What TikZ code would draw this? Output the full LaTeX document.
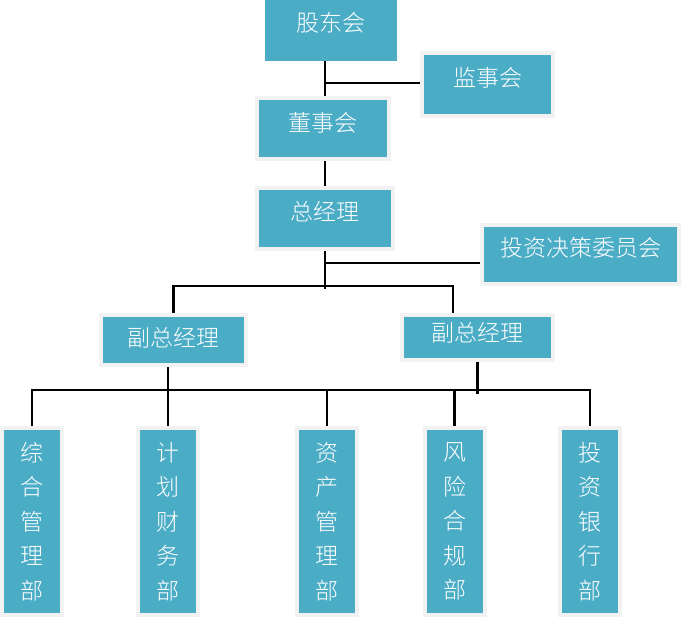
\documentclass[tikz,border=0pt]{standalone}
\usepackage{fontspec}
\IfFontExistsTF{Noto Sans CJK SC Light}
  {\newfontfamily\cjk{Noto Sans CJK SC Light}}
  {\newfontfamily\cjk{Noto Sans CJK SC}}
\definecolor{boxblue}{HTML}{4BACC6}
\definecolor{rimgray}{HTML}{F2F2F2}
\newcommand\tx[2]{\smash{\raisebox{#1}{#2}}}
\begin{document}
\begin{tikzpicture}[x=1pt,y=-1pt,
  box/.style={rectangle, fill=boxblue, draw=rimgray, line width=4pt, text=white,
    font=\cjk\fontsize{23}{28}\selectfont, inner sep=0pt},
  dept/.style={box, minimum width=60pt, minimum height=187pt, align=center,
    font=\cjk\fontsize{23}{34.5}\selectfont},
  wire/.style={line width=2.2pt, black}]
\useasboundingbox (0,0) rectangle (687,634);

\node[box, draw=none, outer sep=0pt, minimum width=132pt, minimum height=61pt] (gd) at (331,30.5) {\tx{-1pt}{股东会}};
\node[box, minimum width=131pt, minimum height=63pt] (js) at (487.5,84.5) {\tx{-2pt}{监事会}};
\node[box, minimum width=132pt, minimum height=61pt] (ds) at (323,128.5) {\tx{-3pt}{董事会}};
\node[box, minimum width=136pt, minimum height=61pt] (zjl) at (325,218.5) {\tx{-2pt}{总经理}};
\node[box, minimum width=197pt, minimum height=59pt] (tz) at (580.5,254.5) {\tx{-2pt}{投资决策委员会}};
\node[box, minimum width=145pt, minimum height=50pt] (f1) at (173.5,340) {\tx{-6pt}{副总经理}};
\node[box, minimum width=151pt, minimum height=45pt] (f2) at (477.5,337.5) {\tx{-4pt}{副总经理}};

\node[dept] (d1) at (32,521.5) {综\\合\\管\\理\\部};
\node[dept] (d2) at (168,521.5) {计\\划\\财\\务\\部};
\node[dept] (d3) at (327,521.5) {资\\产\\管\\理\\部};
\node[dept] (d4) at (454.5,521.5) {风\\险\\合\\规\\部};
\node[dept] (d5) at (590,521.5) {投\\资\\银\\行\\部};

\coordinate (z1) at (325,289);
\coordinate (sp) at (325,286);
\coordinate (b2) at (453,286);
\coordinate (bus) at (0,390);

\draw[wire] (gd.south -| zjl.north) -- (ds.north -| zjl.north);
\draw[wire] ([yshift=1.5pt]js.west) -- ([yshift=1.5pt]js.west -| zjl.north);
\draw[wire] (ds.south -| zjl.north) -- (zjl.north);
\draw[wire] (zjl.south) -- (z1);
\draw[wire] ([yshift=-8.5pt]tz.west) -- ([yshift=-8.5pt]tz.west -| zjl.south);
\draw[wire] (f1.north) -- (f1.north |- sp) -- (b2) -- (b2 |- f2.north);
\draw[wire] (f1.south -| d2.north) -- (d2.north);
\draw[wire] (f2.south) -- ([yshift=-32pt]f2.south);
\draw[wire] (d1.north) -- (d1.north |- bus) -- (d5.north |- bus) -- (d5.north);
\draw[wire] (d3.north |- bus) -- (d3.north);
\draw[wire] (d4.north |- bus) -- (d4.north);
\end{tikzpicture}
\end{document}
